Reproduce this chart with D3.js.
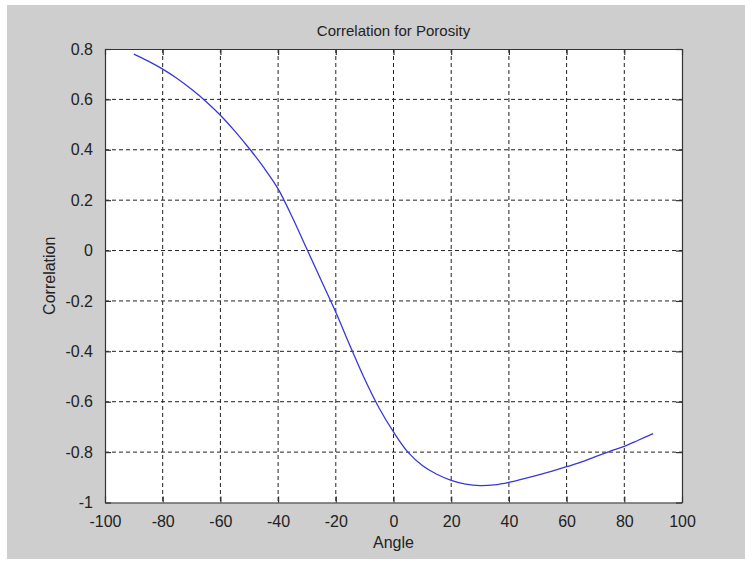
<!DOCTYPE html>
<html>
<head>
<meta charset="utf-8">
<script src="https://cdn.jsdelivr.net/npm/d3@7"></script>
<style>
  body { margin: 0; background: #fff; }
  svg text { font-family: "Liberation Sans", Arial, sans-serif; fill: #222; }
</style>
</head>
<body>
<svg id="chart" width="745" height="563"></svg>
<script>
// curve, angle in degrees
const angles = [-90, -85, -80, -75, -70, -65, -60, -55, -50, -45, -40, -35, -30, -25, -20, -15, -10, -5,
    0, 5, 10, 15, 20, 25, 30, 35, 40, 45, 50, 55, 60, 65, 70, 75, 80, 85, 90];
const correlation = [0.78, 0.752, 0.72, 0.683, 0.64, 0.592, 0.537, 0.474, 0.405, 0.33, 0.245, 0.13, 0.005, -0.12, -0.245,
    -0.38, -0.51, -0.625, -0.72, -0.80, -0.853, -0.888, -0.912, -0.927, -0.933, -0.93, -0.92, -0.906, -0.891,
    -0.875, -0.858, -0.84, -0.818, -0.797, -0.777, -0.752, -0.727];
const xTicks = [-100, -80, -60, -40, -20, 0, 20, 40, 60, 80, 100];
const yTicks = [-1, -0.8, -0.6, -0.4, -0.2, 0, 0.2, 0.4, 0.6, 0.8];

const svg = d3.select('#chart');

// figure background
svg.append('rect')
    .attr('x', 7).attr('y', 5)
    .attr('width', 738).attr('height', 554)
    .attr('fill', '#cecece');

const margin = { top: 49, right: 63, bottom: 60, left: 105 };
const width = 745 - margin.left - margin.right;
const height = 563 - margin.top - margin.bottom - 0.5;

const g = svg.append('g')
    .attr('transform', `translate(${margin.left},${margin.top})`);

const x = d3.scaleLinear().domain([-100, 100]).range([0, width]);
const y = d3.scaleLinear().domain([-1, 0.8]).range([height, 0]);

g.append('rect')
    .attr('width', width).attr('height', height)
    .attr('fill', '#fff');

// dashed grid
g.append('g')
    .selectAll('line')
    .data(xTicks.slice(1, -1))
    .enter().append('line')
    .attr('x1', d => x(d)).attr('x2', d => x(d))
    .attr('y1', 0).attr('y2', height)
    .attr('stroke', '#222').attr('stroke-dasharray', '4,3');

g.append('g')
    .selectAll('line')
    .data(yTicks.slice(1, -1))
    .enter().append('line')
    .attr('y1', d => y(d)).attr('y2', d => y(d))
    .attr('x1', 0).attr('x2', width)
    .attr('stroke', '#222').attr('stroke-dasharray', '4,3');

// axes, ticks pointing inward like matlab
const fmt = d => String(d);

g.append('g')
    .attr('transform', `translate(0,${height})`)
    .call(d3.axisBottom(x).tickValues(xTicks).tickFormat(fmt).tickSizeInner(-6).tickSizeOuter(0).tickPadding(13));
g.append('g')
    .call(d3.axisTop(x).tickValues(xTicks).tickFormat('').tickSizeInner(-6).tickSizeOuter(0));
g.append('g')
    .call(d3.axisLeft(y).tickValues(yTicks).tickFormat(fmt).tickSizeInner(-6).tickSizeOuter(0).tickPadding(12));
g.append('g')
    .attr('transform', `translate(${width},0)`)
    .call(d3.axisRight(y).tickValues(yTicks).tickFormat('').tickSizeInner(-6).tickSizeOuter(0));

g.selectAll('.domain, .tick line').attr('stroke', '#333').attr('stroke-width', 1.2);
g.selectAll('.tick text').style('font-size', '16px').attr('fill', '#222');

// line
const line = d3.line()
    .x((d, i) => x(angles[i]))
    .y(d => y(d))
    .curve(d3.curveCatmullRom);

g.append('path')
    .datum(correlation)
    .attr('d', line)
    .attr('fill', 'none')
    .attr('stroke', '#3838d8')
    .attr('stroke-width', 1.3);

// labels
svg.append('text')
    .attr('x', margin.left + width / 2).attr('y', 36)
    .attr('text-anchor', 'middle')
    .style('font-size', '15px')
    .text('Correlation for Porosity');

svg.append('text')
    .attr('x', margin.left + width / 2).attr('y', 548)
    .attr('text-anchor', 'middle')
    .style('font-size', '16px')
    .text('Angle');

svg.append('text')
    .attr('transform', `translate(55,${margin.top + height / 2}) rotate(-90)`)
    .attr('text-anchor', 'middle')
    .style('font-size', '16px')
    .text('Correlation');
</script>
</body>
</html>
